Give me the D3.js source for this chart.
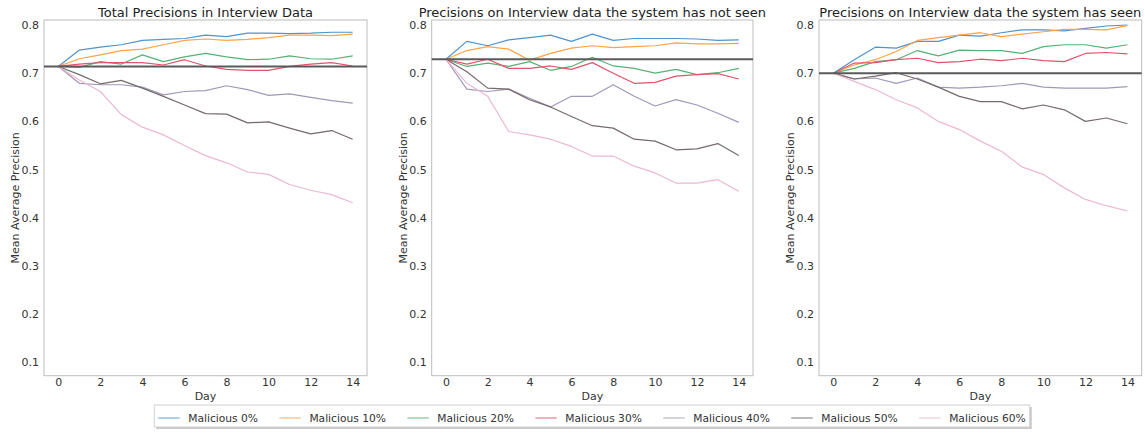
<!DOCTYPE html>
<html><head><meta charset="utf-8">
<script src="https://cdn.jsdelivr.net/npm/d3@7"></script>
<style>
body{margin:0;background:#fff}
svg{display:block}
text{font-family:"DejaVu Sans",sans-serif}
</style>
</head><body>
<svg id="c" width="1145" height="434"></svg>
<script>
// ---------- data ----------
const days = [0,1,2,3,4,5,6,7,8,9,10,11,12,13,14];
const xTicks = [0,2,4,6,8,10,12,14];
const yTicks = [0.1,0.2,0.3,0.4,0.5,0.6,0.7,0.8];
const seriesNames = ["Malicious 0%","Malicious 10%","Malicious 20%","Malicious 30%","Malicious 40%","Malicious 50%","Malicious 60%"];
const seriesColors = ["#4f93cf","#ffa347","#55b274","#e0546c","#a198b8","#766a6a","#ecb8d2"];
const panelTitles = ["Total Precisions in Interview Data","Precisions on Interview data the system has not seen","Precisions on Interview data the system has seen"];
const baselines = [0.714, 0.729, 0.700];

const total0  = [0.714,0.748,0.754,0.759,0.768,0.770,0.772,0.779,0.776,0.783,0.783,0.782,0.783,0.785,0.785];
const total10 = [0.714,0.730,0.738,0.747,0.750,0.759,0.768,0.771,0.768,0.770,0.774,0.779,0.779,0.778,0.781];
const total20 = [0.714,0.712,0.724,0.719,0.738,0.724,0.734,0.741,0.734,0.728,0.729,0.736,0.730,0.729,0.736];
const total30 = [0.714,0.719,0.722,0.722,0.722,0.717,0.728,0.715,0.708,0.706,0.706,0.714,0.719,0.722,0.715];
const total40 = [0.714,0.679,0.676,0.676,0.671,0.655,0.662,0.664,0.674,0.666,0.654,0.657,0.650,0.643,0.638];
const total50 = [0.714,0.697,0.678,0.685,0.669,0.652,0.634,0.616,0.615,0.597,0.599,0.586,0.574,0.581,0.563];
const total60 = [0.714,0.686,0.662,0.614,0.588,0.572,0.550,0.529,0.514,0.495,0.490,0.469,0.457,0.448,0.431];

const unseen0  = [0.729,0.766,0.757,0.769,0.774,0.779,0.766,0.781,0.768,0.772,0.772,0.772,0.771,0.768,0.769];
const unseen10 = [0.729,0.747,0.755,0.750,0.727,0.741,0.752,0.757,0.753,0.755,0.757,0.763,0.761,0.761,0.762];
const unseen20 = [0.729,0.714,0.721,0.714,0.724,0.706,0.714,0.733,0.715,0.710,0.700,0.708,0.697,0.701,0.710];
const unseen30 = [0.729,0.719,0.729,0.710,0.710,0.715,0.708,0.722,0.700,0.679,0.681,0.694,0.697,0.699,0.688];
const unseen40 = [0.729,0.667,0.662,0.667,0.648,0.630,0.652,0.652,0.676,0.652,0.632,0.645,0.634,0.617,0.598];
const unseen50 = [0.729,0.703,0.669,0.667,0.645,0.630,0.610,0.591,0.586,0.563,0.559,0.541,0.543,0.554,0.529];
const unseen60 = [0.729,0.679,0.652,0.579,0.572,0.563,0.548,0.528,0.528,0.507,0.493,0.472,0.472,0.479,0.455];

const seen0  = [0.700,0.728,0.754,0.752,0.766,0.766,0.779,0.777,0.784,0.790,0.790,0.788,0.793,0.798,0.800];
const seen10 = [0.700,0.717,0.728,0.745,0.768,0.774,0.779,0.784,0.776,0.781,0.786,0.791,0.791,0.790,0.799];
const seen20 = [0.700,0.710,0.724,0.728,0.747,0.736,0.748,0.747,0.747,0.741,0.755,0.759,0.759,0.752,0.759];
const seen30 = [0.700,0.721,0.722,0.728,0.731,0.722,0.724,0.729,0.726,0.731,0.726,0.724,0.741,0.743,0.740];
const seen40 = [0.700,0.688,0.690,0.679,0.690,0.671,0.669,0.671,0.674,0.679,0.671,0.669,0.669,0.669,0.672];
const seen50 = [0.700,0.688,0.694,0.701,0.688,0.671,0.652,0.641,0.641,0.626,0.634,0.624,0.600,0.607,0.595];
const seen60 = [0.700,0.683,0.666,0.645,0.628,0.600,0.583,0.559,0.538,0.505,0.490,0.462,0.438,0.425,0.414];

const panelSeries = [
  [total0,total10,total20,total30,total40,total50,total60],
  [unseen0,unseen10,unseen20,unseen30,unseen40,unseen50,unseen60],
  [seen0,seen10,seen20,seen30,seen40,seen50,seen60]
];

// ---------- layout ----------
const svg = d3.select("#c");
const panelX = [[44,367],[431.7,753],[819,1141.7]];
const plotTop = 20, plotBottom = 375.7;
const y = d3.scaleLinear().domain([0.0722,0.8104]).range([plotBottom, plotTop]);

panelX.forEach((px, p) => {
  const x = d3.scaleLinear().domain([-0.68,14.68]).range(px);
  const g = svg.append("g");

  g.append("rect").attr("x",px[0]).attr("y",plotTop).attr("width",px[1]-px[0]).attr("height",plotBottom-plotTop)
    .attr("fill","none").attr("stroke","#bcbcbc").attr("stroke-width",1);

  const ya = g.append("g").attr("transform",`translate(${px[0]},0)`)
    .call(d3.axisLeft(y).tickValues(yTicks).tickSize(0).tickPadding(5).tickFormat(d3.format(".1f")));
  ya.select(".domain").remove();
  ya.selectAll("text").attr("font-size",11).attr("fill","#333").attr("font-family","DejaVu Sans");

  const xa = g.append("g").attr("transform",`translate(0,${plotBottom})`)
    .call(d3.axisBottom(x).tickValues(xTicks).tickSize(0).tickPadding(3).tickFormat(d3.format("d")));
  xa.select(".domain").remove();
  xa.selectAll("text").attr("font-size",11).attr("fill","#333").attr("font-family","DejaVu Sans");

  const line = d3.line().x((d,i)=>x(days[i])).y(d=>y(d));
  panelSeries[p].forEach((s,i)=>{
    g.append("path").datum(s).attr("d",line).attr("fill","none")
      .attr("stroke",seriesColors[i]).attr("stroke-width",1.2).attr("stroke-linejoin","round");
  });

  g.append("line").attr("x1",px[0]).attr("x2",px[1]).attr("y1",y(baselines[p])).attr("y2",y(baselines[p]))
    .attr("stroke","#5a5a5a").attr("stroke-width",2);

  const cx = (px[0]+px[1])/2;
  g.append("text").attr("x",cx).attr("y",17).attr("text-anchor","middle")
    .attr("font-size",13).attr("fill","#222").text(panelTitles[p]);
  g.append("text").attr("x",cx).attr("y",400).attr("text-anchor","middle")
    .attr("font-size",11).attr("fill","#333").text("Day");
  g.append("text").attr("transform",`translate(${px[0]-25},${(plotTop+plotBottom)/2}) rotate(-90)`)
    .attr("text-anchor","middle").attr("font-size",11).attr("fill","#333").text("Mean Average Precision");
});

// ---------- legend ----------
const fs = 10.7, handle = 2*fs, pad = 0.8*fs, colsp = 2*fs, bpad = 4;
const lg = svg.append("g");
const ly = 418;
const shadow = lg.append("rect"), box = lg.append("rect");
let cursor = 0;
const items = [];
seriesNames.forEach((n,i)=>{
  const t = lg.append("text").attr("font-size",fs).attr("fill","#333").attr("y",ly+4).text(n);
  const w = t.node().getComputedTextLength();
  items.push({t, w, x:cursor});
  cursor += handle + pad + w + (i<seriesNames.length-1?colsp:0);
});
const totalW = cursor + 2*bpad;
const centerX = 592;
const bx = centerX - totalW/2;
items.forEach((it,i)=>{
  const x0 = bx + bpad + it.x;
  lg.append("line").attr("x1",x0).attr("x2",x0+handle).attr("y1",ly).attr("y2",ly)
    .attr("stroke",seriesColors[i]).attr("stroke-width",1.2).attr("opacity",0.75);
  it.t.attr("x",x0+handle+pad);
});
shadow.attr("x",bx+2).attr("y",407).attr("width",totalW).attr("height",22).attr("fill","#c8c8c8");
box.attr("x",bx).attr("y",405).attr("width",totalW).attr("height",22).attr("fill","#fff").attr("stroke","#d0d0d0");
</script>
</body></html>
